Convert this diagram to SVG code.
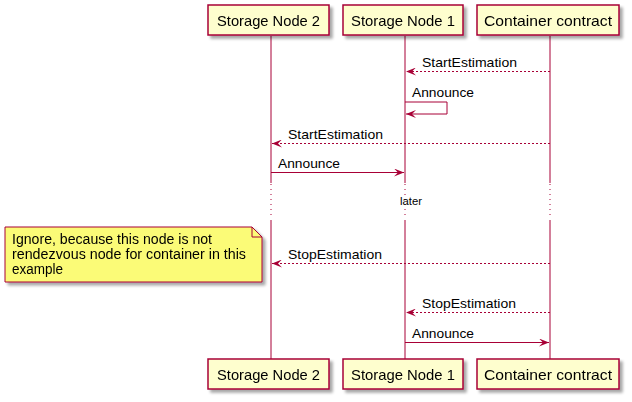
<svg xmlns="http://www.w3.org/2000/svg" width="632" height="402" viewBox="0 0 632 402">
<defs>
<filter id="sh" x="-10%" y="-10%" width="130%" height="140%">
<feGaussianBlur in="SourceAlpha" stdDeviation="1.5"/>
<feOffset dx="3" dy="3" result="b"/>
<feComponentTransfer><feFuncA type="linear" slope="0.35"/></feComponentTransfer>
<feMerge><feMergeNode/><feMergeNode in="SourceGraphic"/></feMerge>
</filter>
<marker id="ah" viewBox="0 0 10 8" refX="10" refY="4" markerWidth="10" markerHeight="8" markerUnits="userSpaceOnUse" orient="auto">
<polygon points="0,0 10,4 0,8 4,4" fill="#A80036"/>
</marker>
</defs>
<style>
.box{fill:#FEFECE;stroke:#A80036;stroke-width:1.5}
.life{stroke:#A80036;stroke-width:1;fill:none}
.dot{stroke:#A80036;stroke-width:1;stroke-dasharray:1,4;fill:none}
.msg{stroke:#A80036;stroke-width:1;fill:none;marker-end:url(#ah)}
.dash{stroke-dasharray:2,2}
text{font-family:"Liberation Sans",Arial,sans-serif;fill:#000}
.pt{font-size:14.5px;text-anchor:middle}
.mt{font-size:13.5px}
.nt{font-size:14px}
.lt{font-size:11px;text-anchor:middle}
</style>
<rect width="632" height="402" fill="#FFFFFF"/>
<g id="lifelines">
<path class="life" d="M271,36 V183 M271,220 V359"/>
<path class="dot" d="M271,184 V219"/>
<path class="life" d="M405,36 V183 M405,220 V359"/>
<path class="dot" d="M405,184 V219"/>
<path class="life" d="M550,36 V183 M550,220 V359"/>
<path class="dot" d="M550,184 V219"/>
</g>
<g id="node-sn2-top" filter="url(#sh)"><rect class="box" x="208" y="5" width="121" height="30"/><text class="pt" x="268.5" y="26" textLength="103" lengthAdjust="spacingAndGlyphs">Storage Node 2</text></g>
<g id="node-sn1-top" filter="url(#sh)"><rect class="box" x="343" y="5" width="120" height="30"/><text class="pt" x="403" y="26" textLength="104" lengthAdjust="spacingAndGlyphs">Storage Node 1</text></g>
<g id="node-cc-top" filter="url(#sh)"><rect class="box" x="477" y="5" width="142" height="30"/><text class="pt" x="548" y="26" textLength="128" lengthAdjust="spacingAndGlyphs">Container contract</text></g>
<g id="node-sn2-bottom" filter="url(#sh)"><rect class="box" x="208" y="359" width="121" height="30"/><text class="pt" x="268.5" y="380" textLength="103" lengthAdjust="spacingAndGlyphs">Storage Node 2</text></g>
<g id="node-sn1-bottom" filter="url(#sh)"><rect class="box" x="343" y="359" width="120" height="30"/><text class="pt" x="403" y="380" textLength="104" lengthAdjust="spacingAndGlyphs">Storage Node 1</text></g>
<g id="node-cc-bottom" filter="url(#sh)"><rect class="box" x="477" y="359" width="142" height="30"/><text class="pt" x="548" y="380" textLength="128" lengthAdjust="spacingAndGlyphs">Container contract</text></g>
<g id="connectors">
<path class="msg dash" d="M550,71.5 H406"/>
<text class="mt" x="422" y="67" textLength="95" lengthAdjust="spacingAndGlyphs">StartEstimation</text>
<path class="msg" d="M405,102 H447 V114 H406"/>
<text class="mt" x="412" y="96.5" textLength="62" lengthAdjust="spacingAndGlyphs">Announce</text>
<path class="msg dash" d="M550,143.5 H272"/>
<text class="mt" x="288" y="139" textLength="95" lengthAdjust="spacingAndGlyphs">StartEstimation</text>
<path class="msg" d="M271,172.5 H404"/>
<text class="mt" x="278" y="167.5" textLength="62" lengthAdjust="spacingAndGlyphs">Announce</text>
<text class="lt" x="411" y="205" textLength="22" lengthAdjust="spacingAndGlyphs">later</text>
<path class="msg dash" d="M550,263.5 H272"/>
<text class="mt" x="288" y="259" textLength="94" lengthAdjust="spacingAndGlyphs">StopEstimation</text>
<path class="msg dash" d="M550,312.5 H406"/>
<text class="mt" x="422" y="307.5" textLength="94" lengthAdjust="spacingAndGlyphs">StopEstimation</text>
<path class="msg" d="M405,342.5 H549"/>
<text class="mt" x="412" y="337.5" textLength="62" lengthAdjust="spacingAndGlyphs">Announce</text>
</g>
<g id="note" filter="url(#sh)">
<path d="M5,227 H252 L262,237 V282 H5 Z" fill="#FBFB77" stroke="#A80036" stroke-width="1"/>
<path d="M252,227 V237 H262" fill="none" stroke="#A80036" stroke-width="1"/>
<text class="nt" x="12" y="244" textLength="200" lengthAdjust="spacingAndGlyphs">Ignore, because this node is not</text>
<text class="nt" x="12" y="259" textLength="234" lengthAdjust="spacingAndGlyphs">rendezvous node for container in this</text>
<text class="nt" x="12" y="274" textLength="51" lengthAdjust="spacingAndGlyphs">example</text>
</g>
</svg>
